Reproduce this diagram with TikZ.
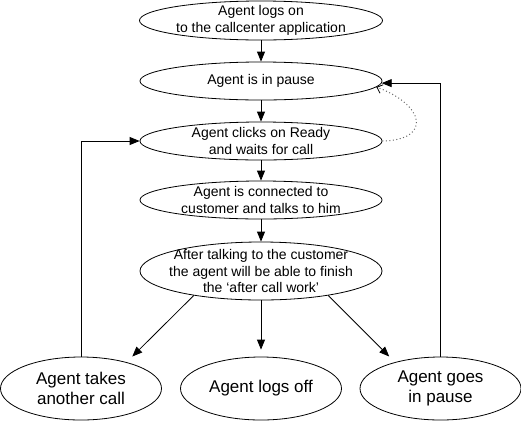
\documentclass[tikz,border=0pt]{standalone}
\usepackage{fontspec}
\setmainfont{Liberation Sans}
\usepackage{tikz}
\usetikzlibrary{shapes.geometric,arrows.meta}

\begin{document}
\begin{tikzpicture}[x=1pt,y=-1pt,>={Triangle[length=10pt,width=8pt]},line width=0.8pt,
  state/.style={draw,ellipse,minimum width=242pt,minimum height=38pt,inner sep=-20pt,align=center,font=\fontsize{14}{16.5}\selectfont},
  last/.style={draw,ellipse,minimum width=161pt,minimum height=63pt,inner sep=-20pt,align=center,font=\fontsize{17}{20}\selectfont}]
  \useasboundingbox (0,0) rectangle (521,421);
  \node[state,minimum width=243pt,minimum height=39pt] (logon) at (261,20.5) {Agent logs on\\to the callcenter application};
  \node[state] (pause) at (261,81) {Agent is in pause};
  \node[state] (ready) at (261,141) {Agent clicks on Ready\\and waits for call};
  \node[state] (talk) at (261,200) {Agent is connected to\\customer and talks to him};
  \node[state,minimum height=58pt] (acw) at (261,271) {After talking to the customer\\the agent will be able to finish\\the `after call work'};
  \node[last] (another) at (81,388.5) {Agent takes\\another call};
  \node[last] (logoff) at (261,388.5) {Agent logs off};
  \node[last] (gopause) at (440.5,388.5) {Agent goes\\in pause};
  \draw[->] (logon) -- (pause);
  \draw[->] (pause) -- (ready);
  \draw[->] (ready) -- (talk);
  \draw[->] (talk) -- (acw);
  \draw[->,shorten >=7pt] (acw) -- (logoff);
  \draw[->,shorten >=8pt] (acw.-160) -- (another.30);
  \draw[->,shorten >=8pt] (acw.-20) -- (gopause.150);
  \draw[->] (another.north) |- (ready.west);
  \draw[->] (gopause.north) |- (pause.-1.5);
  \draw[black!60,line width=1pt,dash pattern=on 1pt off 2.5pt,-{Straight Barb[length=5pt,width=9pt,black,line width=0.8pt]}] (ready.east) .. controls (432,140) and (425,105) .. (pause.-3);
\end{tikzpicture}
\end{document}
